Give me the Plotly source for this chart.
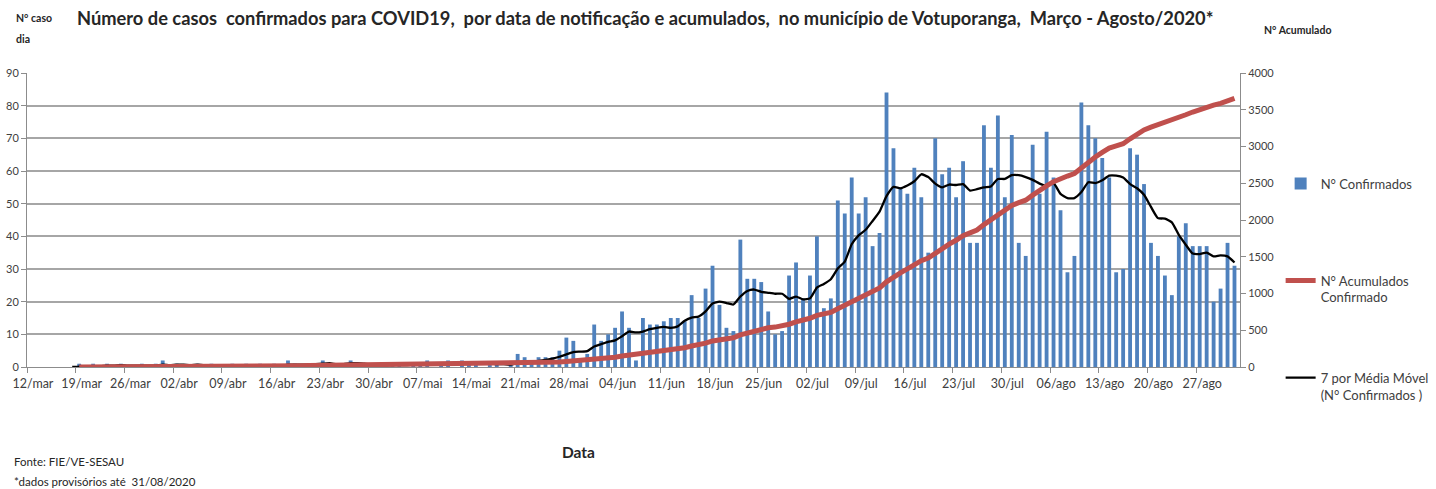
import pandas as pd
import numpy as np
import plotly.graph_objects as go

# ---------------- data ----------------
start_date = "2020-03-12"
conf_mar = [0, 0, 0, 0, 0, 0, 0,
            1, 0, 1, 0, 1, 0, 1, 0, 0, 1, 0, 1, 2]                      # 12/mar-31/mar
conf_abr = [0, 1, 0, 0, 1, 0, 1, 0, 0, 1,
            0, 1, 0, 1, 0, 1, 0, 2, 1, 0,
            1, 1, 2, 1, 0, 1, 2, 1, 0, 1]
conf_mai = [1, 0, 1, 1, 0, 1, 1, 2, 0, 1,
            2, 0, 2, 1, 1, 0, 1, 1, 0, 1,
            4, 3, 1, 3, 3, 3, 5, 9, 8, 2, 4]
conf_jun = [13, 8, 10, 12, 17, 12, 2, 15, 13, 13,
            14, 15, 15, 14, 22, 15, 24, 31, 19, 12,
            11, 39, 27, 27, 26, 17, 10, 11, 28, 32]
conf_jul = [21, 28, 40, 18, 21, 51, 47, 58, 47, 52,
            37, 41, 84, 67, 55, 53, 61, 52, 35, 70,
            59, 61, 52, 63, 38, 38, 74, 61, 77, 52, 71]
conf_ago = [38, 34, 68, 53, 72, 58, 48, 29, 34, 81,
            74, 70, 64, 58, 29, 30, 67, 65, 56, 38,
            34, 28, 22, 40, 44, 37, 37, 37, 20, 24, 38]
conf_set = [31]

tick_labels = ["12/mar", "19/mar", "26/mar", "02/abr", "09/abr", "16/abr", "23/abr",
               "30/abr", "07/mai", "14/mai", "21/mai", "28/mai", "04/jun", "11/jun",
               "18/jun", "25/jun", "02/jul", "09/jul", "16/jul", "23/jul", "30/jul",
               "06/ago", "13/ago", "20/ago", "27/ago"]

confirmados = conf_mar + conf_abr + conf_mai + conf_jun + conf_jul + conf_ago + conf_set
dates = pd.date_range(start_date, periods=len(confirmados), freq="D")
s = pd.Series(confirmados, index=dates, dtype=float)
acumulado = s.cumsum()
acum_show = acumulado[acumulado > 0]
media_movel = s.rolling(7).mean().dropna()
tick_dates = pd.date_range(start_date, periods=len(tick_labels), freq="7D")

BLUE = "#4F81BD"
RED = "#C0504D"
FONT = "Lato"
TXT = "#404040"
DARK = "#262626"
AX = "#8C8C8C"
DAY_MS = 86400000

fig = go.Figure()
fig.add_trace(go.Bar(
    x=dates, y=confirmados, name="N° Confirmados", marker_color=BLUE,
    marker_line_width=0, xperiod=DAY_MS, xperiodalignment="middle",
    showlegend=True, legend="legend"))
fig.add_trace(go.Scatter(
    x=acum_show.index, y=acum_show.values, name="N° Acumulados<br>Confirmado",
    mode="lines", line=dict(color=RED, width=5), yaxis="y2",
    xperiod=DAY_MS, xperiodalignment="middle", showlegend=True, legend="legend2"))
fig.add_trace(go.Scatter(
    x=media_movel.index, y=media_movel.values,
    name="7 por Média Móvel<br>(N° Confirmados )",
    mode="lines", line=dict(color="black", width=2.3, shape="spline", smoothing=0.5),
    xperiod=DAY_MS, xperiodalignment="middle", showlegend=True, legend="legend3"))

legend_common = dict(font=dict(family=FONT, size=13, color=TXT),
                     xanchor="left", yanchor="top", bgcolor="rgba(0,0,0,0)",
                     valign="top", x=1.0335, visible=True)

fig.update_layout(
    width=1436, height=489, autosize=False, showlegend=True,
    margin=dict(l=27, r=196, t=73, b=122, autoexpand=False),
    paper_bgcolor="white", plot_bgcolor="white",
    bargap=0.45,
    font=dict(family=FONT, size=11, color=TXT),
    xaxis=dict(type="date", range=["2020-03-12", "2020-09-02 07:00"],
               tickvals=tick_dates, ticktext=tick_labels, ticklabelshift=6,
               ticks="outside", ticklen=5, tickcolor=AX, automargin=False,
               showline=True, linecolor=AX, linewidth=1, showgrid=False,
               tickfont=dict(family=FONT, size=12.5, color=TXT)),
    yaxis=dict(range=[0, 90], dtick=10, showgrid=True, gridcolor="#A6A6A6",
               gridwidth=1.5, zeroline=False, showline=True, linecolor=AX,
               ticks="outside", ticklen=5, tickcolor=AX, automargin=False,
               tickfont=dict(family=FONT, size=11, color=TXT)),
    yaxis2=dict(range=[0, 4000], dtick=500, overlaying="y", side="right",
                showgrid=False, zeroline=False, showline=True, linecolor=AX,
                ticks="outside", ticklen=5, tickcolor=AX, automargin=False,
                tickfont=dict(family=FONT, size=11, color=TXT)),
    legend=dict(**legend_common, y=0.675),
    legend2=dict(**legend_common, y=0.345),
    legend3=dict(**legend_common, y=0.015),
)

annotations = [
    dict(text="<b>Número de casos  confirmados para COVID19,  por data de notificação e acumulados,  no município de Votuporanga,  Março - Agosto/2020*</b>",
         x=0.0396, y=1.187, xanchor="left", yanchor="middle",
         font=dict(family=FONT, size=18.3, color=DARK)),
    dict(text="<b>N° caso</b>", x=-0.0107, y=1.187, xanchor="left", yanchor="middle",
         font=dict(family=FONT, size=10.5, color=DARK)),
    dict(text="<b>dia</b>", x=-0.0107, y=1.116, xanchor="left", yanchor="middle",
         font=dict(family=FONT, size=10.5, color=DARK)),
    dict(text="<b>N° Acumulado</b>", x=1.018, y=1.146, xanchor="left", yanchor="middle",
         font=dict(family=FONT, size=10.5, color=DARK)),
    dict(text="<b>Data</b>", x=0.455, y=-0.29, xanchor="center", yanchor="middle",
         font=dict(family=FONT, size=15.5, color=DARK)),
    dict(text="Fonte: FIE/VE-SESAU", x=-0.0124, y=-0.32, xanchor="left", yanchor="middle",
         font=dict(family=FONT, size=11.5, color=DARK)),
    dict(text="*dados provisórios até  31/08/2020", x=-0.0124, y=-0.388, xanchor="left",
         yanchor="middle", font=dict(family=FONT, size=11.5, color=DARK)),
]
for a in annotations:
    a.update(xref="paper", yref="paper", showarrow=False)
fig.update_layout(annotations=annotations)

fig.write_html("out.html", config={"displayModeBar": False},
               post_script="document.body.style.margin='0';")
